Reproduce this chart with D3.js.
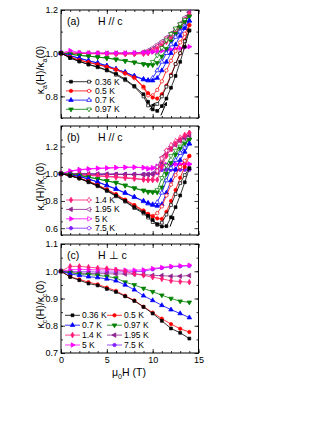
<!DOCTYPE html>
<html>
<head>
<meta charset="utf-8">
<script src="https://cdn.jsdelivr.net/npm/d3@7"></script>
<style>
  body { margin: 0; background: #fff; }
  text { font-family: "Liberation Sans", Arial, sans-serif; fill: #000; }
</style>
</head>
<body>
<div id="chart"></div>
<script>
// field values (T)
const fieldSweep = [0, 1, 2, 3, 4, 5, 6, 7, 8, 9, 9.5, 10, 10.5, 11, 11.5, 12, 12.5, 13, 13.5, 14];
const fieldPerp = [0, 1, 2, 3, 4, 5, 6, 7, 8, 9, 10, 11, 12, 13, 14];

// (a) kappa_a, H // c : up sweep (filled) and down sweep (open)
const a036Up = [1.0, 0.978, 0.962, 0.948, 0.937, 0.922, 0.905, 0.88, 0.848, 0.81, 0.775, 0.74, 0.733, 0.755, 0.79, 0.84, 0.895, 0.96, 1.03, 1.105];
const a036Down = [1.0, 0.978, 0.962, 0.948, 0.935, 0.92, 0.9, 0.875, 0.845, 0.8, 0.758, 0.752, 0.765, 0.8, 0.845, 0.895, 0.95, 1.0, 1.055, 1.105];
const a05Up = [1.0, 0.982, 0.968, 0.958, 0.948, 0.937, 0.925, 0.908, 0.888, 0.845, 0.815, 0.795, 0.79, 0.81, 0.85, 0.9, 0.95, 1.0, 1.06, 1.13];
const a05Down = [1.0, 0.982, 0.968, 0.957, 0.947, 0.936, 0.923, 0.905, 0.884, 0.84, 0.805, 0.805, 0.83, 0.87, 0.92, 0.965, 1.01, 1.05, 1.09, 1.13];
const a07Up = [1.0, 0.988, 0.977, 0.965, 0.955, 0.942, 0.927, 0.912, 0.895, 0.88, 0.875, 0.873, 0.885, 0.92, 0.96, 1.0, 1.04, 1.08, 1.115, 1.15];
const a07Down = [1.0, 0.988, 0.977, 0.965, 0.954, 0.941, 0.926, 0.911, 0.893, 0.878, 0.873, 0.885, 0.92, 0.96, 1.0, 1.04, 1.075, 1.1, 1.125, 1.15];
const a097Up = [1.0, 0.995, 0.99, 0.986, 0.982, 0.978, 0.972, 0.965, 0.958, 0.95, 0.946, 0.945, 0.955, 0.985, 1.02, 1.055, 1.09, 1.12, 1.145, 1.17];
const a097Down = [1.0, 0.995, 0.99, 0.986, 0.982, 0.977, 0.971, 0.964, 0.957, 0.949, 0.946, 0.96, 0.99, 1.025, 1.06, 1.09, 1.115, 1.135, 1.155, 1.17];
const a14Up = [1.0, 1.0, 0.999, 0.998, 0.998, 0.997, 0.997, 0.996, 0.996, 0.997, 1.0, 1.008, 1.02, 1.035, 1.052, 1.07, 1.09, 1.115, 1.145, 1.18];
const a14Down = [1.0, 1.0, 0.999, 0.998, 0.998, 0.997, 0.997, 0.997, 0.997, 1.0, 1.005, 1.015, 1.03, 1.045, 1.065, 1.085, 1.105, 1.13, 1.155, 1.18];
const a195Up = [1.0, 1.0, 1.0, 1.0, 1.0, 1.0, 1.0, 1.0, 1.0, 1.003, 1.008, 1.018, 1.03, 1.045, 1.062, 1.08, 1.1, 1.125, 1.155, 1.19];
const a195Down = [1.0, 1.0, 1.0, 1.0, 1.0, 1.0, 1.0, 1.0, 1.001, 1.006, 1.013, 1.025, 1.04, 1.055, 1.073, 1.092, 1.113, 1.138, 1.165, 1.19];
const a5Up = [1.0, 1.012, 1.003, 1.0, 1.0, 1.0, 1.001, 1.001, 1.002, 1.003, 1.004, 1.006, 1.008, 1.011, 1.014, 1.017, 1.02, 1.023, 1.027, 1.03];

// (b) kappa_c, H // c
const b036Up = [1.0, 0.985, 0.966, 0.94, 0.912, 0.877, 0.839, 0.8, 0.754, 0.717, 0.69, 0.66, 0.63, 0.612, 0.615, 0.68, 0.754, 0.84, 0.937, 1.04];
const b036Down = [1.0, 0.984, 0.964, 0.937, 0.908, 0.873, 0.834, 0.795, 0.748, 0.708, 0.678, 0.645, 0.624, 0.64, 0.7, 0.77, 0.85, 0.93, 0.99, 1.04];
const b05Up = [1.0, 0.985, 0.968, 0.945, 0.917, 0.885, 0.85, 0.81, 0.77, 0.73, 0.705, 0.685, 0.672, 0.668, 0.72, 0.8, 0.88, 0.97, 1.05, 1.13];
const b05Down = [1.0, 0.985, 0.967, 0.943, 0.915, 0.882, 0.846, 0.806, 0.765, 0.724, 0.7, 0.69, 0.71, 0.76, 0.84, 0.92, 0.99, 1.05, 1.095, 1.13];
const b07Up = [1.0, 0.99, 0.98, 0.962, 0.94, 0.915, 0.889, 0.86, 0.83, 0.8, 0.785, 0.77, 0.763, 0.775, 0.86, 0.95, 1.03, 1.1, 1.16, 1.22];
const b07Down = [1.0, 0.99, 0.979, 0.96, 0.938, 0.912, 0.886, 0.857, 0.827, 0.797, 0.78, 0.775, 0.79, 0.86, 0.95, 1.04, 1.1, 1.15, 1.19, 1.22];
const b097Up = [1.0, 0.995, 0.988, 0.975, 0.962, 0.948, 0.935, 0.915, 0.895, 0.878, 0.868, 0.864, 0.862, 0.9, 1.0, 1.08, 1.14, 1.185, 1.22, 1.25];
const b097Down = [1.0, 0.995, 0.987, 0.974, 0.96, 0.946, 0.932, 0.912, 0.892, 0.875, 0.866, 0.868, 0.88, 0.97, 1.06, 1.13, 1.17, 1.2, 1.23, 1.25];
const b14Up = [1.0, 0.996, 0.993, 0.99, 0.986, 0.982, 0.978, 0.972, 0.966, 0.958, 0.955, 0.953, 0.955, 1.05, 1.13, 1.18, 1.22, 1.25, 1.28, 1.3];
const b14Down = [1.0, 0.995, 0.991, 0.987, 0.983, 0.978, 0.973, 0.967, 0.962, 0.956, 0.954, 0.96, 1.02, 1.11, 1.17, 1.21, 1.24, 1.265, 1.285, 1.3];
const b195Up = [1.0, 1.0, 0.999, 0.998, 0.997, 0.996, 0.996, 0.995, 0.994, 0.993, 0.993, 0.995, 1.01, 1.08, 1.14, 1.18, 1.21, 1.24, 1.26, 1.28];
const b195Down = [1.0, 1.0, 0.999, 0.998, 0.997, 0.996, 0.995, 0.994, 0.993, 0.993, 0.995, 1.0, 1.05, 1.12, 1.17, 1.2, 1.23, 1.25, 1.27, 1.28];
const b5Up = [1.0, 1.02, 1.03, 1.035, 1.04, 1.042, 1.045, 1.047, 1.048, 1.045, 1.035, 1.04, 1.05, 1.06, 1.065, 1.068, 1.07, 1.07, 1.07, 1.07];
const b5Down = [1.0, 1.018, 1.028, 1.034, 1.038, 1.041, 1.044, 1.046, 1.047, 1.043, 1.04, 1.045, 1.055, 1.063, 1.067, 1.069, 1.07, 1.07, 1.07, 1.07];
const b75Up = [1.0, 0.999, 0.998, 0.997, 0.997, 0.996, 0.996, 0.995, 0.995, 0.995, 0.995, 0.998, 1.005, 1.028, 1.03, 1.03, 1.03, 1.03, 1.03, 1.03];
const b75Down = [1.0, 0.999, 0.998, 0.997, 0.996, 0.996, 0.995, 0.995, 0.995, 0.995, 0.997, 1.0, 1.015, 1.03, 1.03, 1.03, 1.03, 1.03, 1.03, 1.03];

// (c) kappa_c, H perpendicular to c
const c036 = [1.0, 0.979, 0.967, 0.955, 0.948, 0.935, 0.924, 0.908, 0.891, 0.869, 0.845, 0.818, 0.79, 0.774, 0.753];
const c05 = [1.0, 0.98, 0.97, 0.96, 0.952, 0.94, 0.928, 0.91, 0.893, 0.87, 0.848, 0.826, 0.806, 0.789, 0.777];
const c07 = [1.0, 0.99, 0.985, 0.98, 0.977, 0.972, 0.965, 0.95, 0.932, 0.91, 0.893, 0.875, 0.859, 0.845, 0.83];
const c097 = [1.0, 0.995, 0.99, 0.988, 0.985, 0.981, 0.975, 0.96, 0.95, 0.937, 0.925, 0.912, 0.9, 0.89, 0.886];
const c14 = [1.0, 1.018, 1.018, 1.015, 1.012, 1.01, 1.005, 1.0, 0.99, 0.985, 0.978, 0.972, 0.965, 0.962, 0.96];
const c195 = [1.0, 0.995, 0.993, 0.992, 0.991, 0.991, 0.99, 0.99, 0.99, 0.988, 0.985, 0.984, 0.982, 0.982, 0.984];
const c5 = [1.0, 1.005, 1.007, 1.006, 1.005, 1.005, 1.005, 1.004, 1.004, 1.005, 1.01, 1.014, 1.018, 1.02, 1.022];
const c75 = [1.0, 0.999, 0.998, 0.998, 0.997, 0.997, 0.997, 0.998, 0.998, 1.0, 1.007, 1.012, 1.016, 1.018, 1.02];

// sweep-direction arrows [x1, y1, x2, y2] in data units
const arrowsA = [[9.7, 0.738, 10.2, 0.768], [10.9, 0.712, 11.5, 0.772]];
const arrowsB = [[11.9, 0.612, 12.3, 0.685]];

const temps = ["0.36 K", "0.5 K", "0.7 K", "0.97 K", "1.4 K", "1.95 K", "5 K", "7.5 K"];
const colors = ["#000000", "#ff0000", "#0000ff", "#008000", "#ff1a75", "#8e238e", "#ff00ff", "#7f1fff"];

// hexagon symbol (not in d3)
const symbolHex = {
  draw(ctx, size) {
    const r = Math.sqrt(size / 2.598);
    for (let i = 0; i < 6; i++) {
      const a = Math.PI / 3 * i;
      if (i === 0) ctx.moveTo(r * Math.cos(a), r * Math.sin(a));
      else ctx.lineTo(r * Math.cos(a), r * Math.sin(a));
    }
    ctx.closePath();
  }
};
// symbol type, rotation and area per temperature
const markers = [
  [d3.symbolSquare, 0, 8],
  [d3.symbolCircle, 0, 9],
  [d3.symbolTriangle, 0, 9],
  [d3.symbolTriangle, 180, 9],
  [d3.symbolDiamond, 0, 9],
  [d3.symbolTriangle, -90, 9],
  [d3.symbolTriangle, 90, 9],
  [symbolHex, 0, 9]
];

const W = 327, H = 423;
const left = 61, right = 198.5;

const svg = d3.select("#chart").append("svg").attr("width", W).attr("height", H);

svg.append("defs").append("marker")
  .attr("id", "ahead")
  .attr("viewBox", "0 0 10 10")
  .attr("refX", 8).attr("refY", 5)
  .attr("markerWidth", 4).attr("markerHeight", 4)
  .attr("orient", "auto")
  .append("path").attr("d", "M0,0L10,5L0,10z").attr("fill", "#000");

const x = d3.scaleLinear().domain([0, 15]).range([left, right]);

const panels = [
  {
    top: 10, bottom: 118, domain: [0.7, 1.2], major: [0.8, 1.0, 1.2], minorStep: 0.1,
    tag: "(a)", field: "H // c", sub: "a", x: fieldSweep, arrows: arrowsA,
    series: [
      [5, a195Up, a195Down], [4, a14Up, a14Down], [6, a5Up, null],
      [3, a097Up, a097Down], [2, a07Up, a07Down], [1, a05Up, a05Down], [0, a036Up, a036Down]
    ],
    legend: [0, 1, 2, 3], legendRows: [71.7, 80.9, 90.1, 99.3]
  },
  {
    top: 126, bottom: 235, domain: [0.55, 1.35], major: [0.6, 0.8, 1.0, 1.2], minorStep: 0.1,
    tag: "(b)", field: "H // c", sub: "c", x: fieldSweep, arrows: arrowsB,
    series: [
      [7, b75Up, b75Down], [6, b5Up, b5Down], [5, b195Up, b195Down], [4, b14Up, b14Down],
      [3, b097Up, b097Down], [2, b07Up, b07Down], [1, b05Up, b05Down], [0, b036Up, b036Down]
    ],
    legend: [4, 5, 6, 7], legendRows: [74, 83.4, 92.8, 102.2]
  },
  {
    top: 244, bottom: 353, domain: [0.7, 1.1], major: [0.7, 0.8, 0.9, 1.0, 1.1], minorStep: 0.05,
    tag: "(c)", field: "H \u22a5 c", sub: "c", x: fieldPerp, arrows: [],
    series: [
      [7, c75, null], [6, c5, null], [5, c195, null], [4, c14, null],
      [3, c097, null], [2, c07, null], [1, c05, null], [0, c036, null]
    ],
    legend: null, legendRows: [71.3, 81.2, 91.1, 101]
  }
];

function symbolPath(k) {
  return d3.symbol().type(markers[k][0]).size(markers[k][2])();
}

function drawMarker(g, k, cx, cy, filled) {
  g.append("path")
    .attr("d", symbolPath(k))
    .attr("transform", "translate(" + cx + "," + cy + ") rotate(" + markers[k][1] + ")")
    .attr("fill", filled ? colors[k] : "#fff")
    .attr("stroke", colors[k])
    .attr("stroke-width", 0.7);
}

panels.forEach((p, pi) => {
  const y = d3.scaleLinear().domain(p.domain).range([p.bottom, p.top]);
  const g = svg.append("g");

  // minor ticks
  const minorY = d3.range(p.domain[0], p.domain[1] + 1e-9, p.minorStep);
  const minorX = d3.range(0, 15.01, 1);

  g.append("g").attr("transform", "translate(" + left + ",0)")
    .call(d3.axisLeft(y).tickValues(minorY).tickSize(-2).tickFormat(""));
  g.append("g").attr("transform", "translate(" + right + ",0)")
    .call(d3.axisRight(y).tickValues(minorY).tickSize(-2).tickFormat(""));
  g.append("g").attr("transform", "translate(0," + p.bottom + ")")
    .call(d3.axisBottom(x).tickValues(minorX).tickSize(-2).tickFormat(""));
  g.append("g").attr("transform", "translate(0," + p.top + ")")
    .call(d3.axisTop(x).tickValues(minorX).tickSize(-2).tickFormat(""));

  // major ticks
  g.append("g").attr("class", "yaxis").attr("transform", "translate(" + left + ",0)")
    .call(d3.axisLeft(y).tickValues(p.major).tickSize(-4).tickPadding(3).tickFormat(d3.format(".1f")));
  g.append("g").attr("transform", "translate(" + right + ",0)")
    .call(d3.axisRight(y).tickValues(p.major).tickSize(-4).tickFormat(""));
  g.append("g").attr("class", "xaxis").attr("transform", "translate(0," + p.bottom + ")")
    .call(d3.axisBottom(x).tickValues([0, 5, 10, 15]).tickSize(-4).tickPadding(4)
      .tickFormat(pi === 2 ? d3.format("d") : ""));
  g.append("g").attr("transform", "translate(0," + p.top + ")")
    .call(d3.axisTop(x).tickValues([0, 5, 10, 15]).tickSize(-4).tickFormat(""));

  g.selectAll(".domain").remove();
  g.selectAll(".tick line").attr("stroke", "#000").attr("stroke-width", 0.8);
  g.selectAll(".tick text").attr("font-size", 9).attr("font-family", "Liberation Sans, Arial, sans-serif").attr("fill", "#000");

  // frame
  g.append("rect")
    .attr("x", left).attr("y", p.top)
    .attr("width", right - left).attr("height", p.bottom - p.top)
    .attr("fill", "none").attr("stroke", "#000").attr("stroke-width", 1);

  // curves
  const line = d3.line().x(d => x(d[0])).y(d => y(d[1]));
  p.series.forEach(s => {
    const k = s[0];
    [s[2], s[1]].forEach((vals, j) => {
      if (!vals) return;
      const filled = j === 1;
      const pts = p.x.map((f, i) => [f, vals[i]]);
      g.append("path").datum(pts)
        .attr("d", line)
        .attr("fill", "none")
        .attr("stroke", colors[k])
        .attr("stroke-width", 0.8);
      g.append("g").selectAll("path")
        .data(pts).enter().append("path")
        .attr("d", symbolPath(k))
        .attr("transform", d => "translate(" + x(d[0]) + "," + y(d[1]) + ") rotate(" + markers[k][1] + ")")
        .attr("fill", filled ? colors[k] : "#fff")
        .attr("stroke", colors[k])
        .attr("stroke-width", 0.7);
    });
  });

  // arrows
  p.arrows.forEach(a => {
    g.append("line")
      .attr("x1", x(a[0])).attr("y1", y(a[1]))
      .attr("x2", x(a[2])).attr("y2", y(a[3]))
      .attr("stroke", "#000").attr("stroke-width", 1)
      .attr("marker-end", "url(#ahead)");
  });

  // panel tag + field orientation
  g.append("text").attr("x", 67).attr("y", p.top + 15)
    .attr("font-size", 10.5).text(p.tag);
  g.append("text").attr("x", 98).attr("y", p.top + 15)
    .attr("font-size", 10.5).text(p.field);

  // y axis label
  const yl = svg.append("text")
    .attr("transform", "translate(44," + ((p.top + p.bottom) / 2 + 6) + ") rotate(-90)")
    .attr("text-anchor", "middle")
    .attr("font-size", 10.5);
  yl.append("tspan").text("\u03ba");
  yl.append("tspan").attr("font-size", 7).attr("dy", 2.5).text(p.sub);
  yl.append("tspan").attr("dy", -2.5).text("(H)/\u03ba");
  yl.append("tspan").attr("font-size", 7).attr("dy", 2.5).text(p.sub);
  yl.append("tspan").attr("dy", -2.5).text("(0)");

  // legend
  const lg = g.append("g");
  if (p.legend) {
    p.legend.forEach((k, i) => {
      const ly = p.top + p.legendRows[i];
      lg.append("line").attr("x1", 66).attr("x2", 92).attr("y1", ly).attr("y2", ly)
        .attr("stroke", colors[k]).attr("stroke-width", 0.8);
      drawMarker(lg, k, 71, ly, true);
      drawMarker(lg, k, 89, ly, false);
      lg.append("text").attr("x", 95).attr("y", ly + 3).attr("font-size", 8.5).text(temps[k]);
    });
  } else {
    temps.forEach((t, k) => {
      const col = k % 2, row = Math.floor(k / 2);
      const lx = col === 0 ? 65 : 107;
      const ly = p.top + p.legendRows[row];
      lg.append("line").attr("x1", lx).attr("x2", lx + 15).attr("y1", ly).attr("y2", ly)
        .attr("stroke", colors[k]).attr("stroke-width", 0.8);
      drawMarker(lg, k, lx + 7.5, ly, true);
      lg.append("text").attr("x", lx + 17).attr("y", ly + 3).attr("font-size", 8.5).text(t);
    });
  }
});

// x axis title
const xt = svg.append("text")
  .attr("x", 129).attr("y", 376)
  .attr("text-anchor", "middle")
  .attr("font-size", 10.5);
xt.append("tspan").text("\u03bc");
xt.append("tspan").attr("font-size", 7).attr("dy", 2.5).text("0");
xt.append("tspan").attr("dy", -2.5).text("H (T)");
</script>
</body>
</html>
